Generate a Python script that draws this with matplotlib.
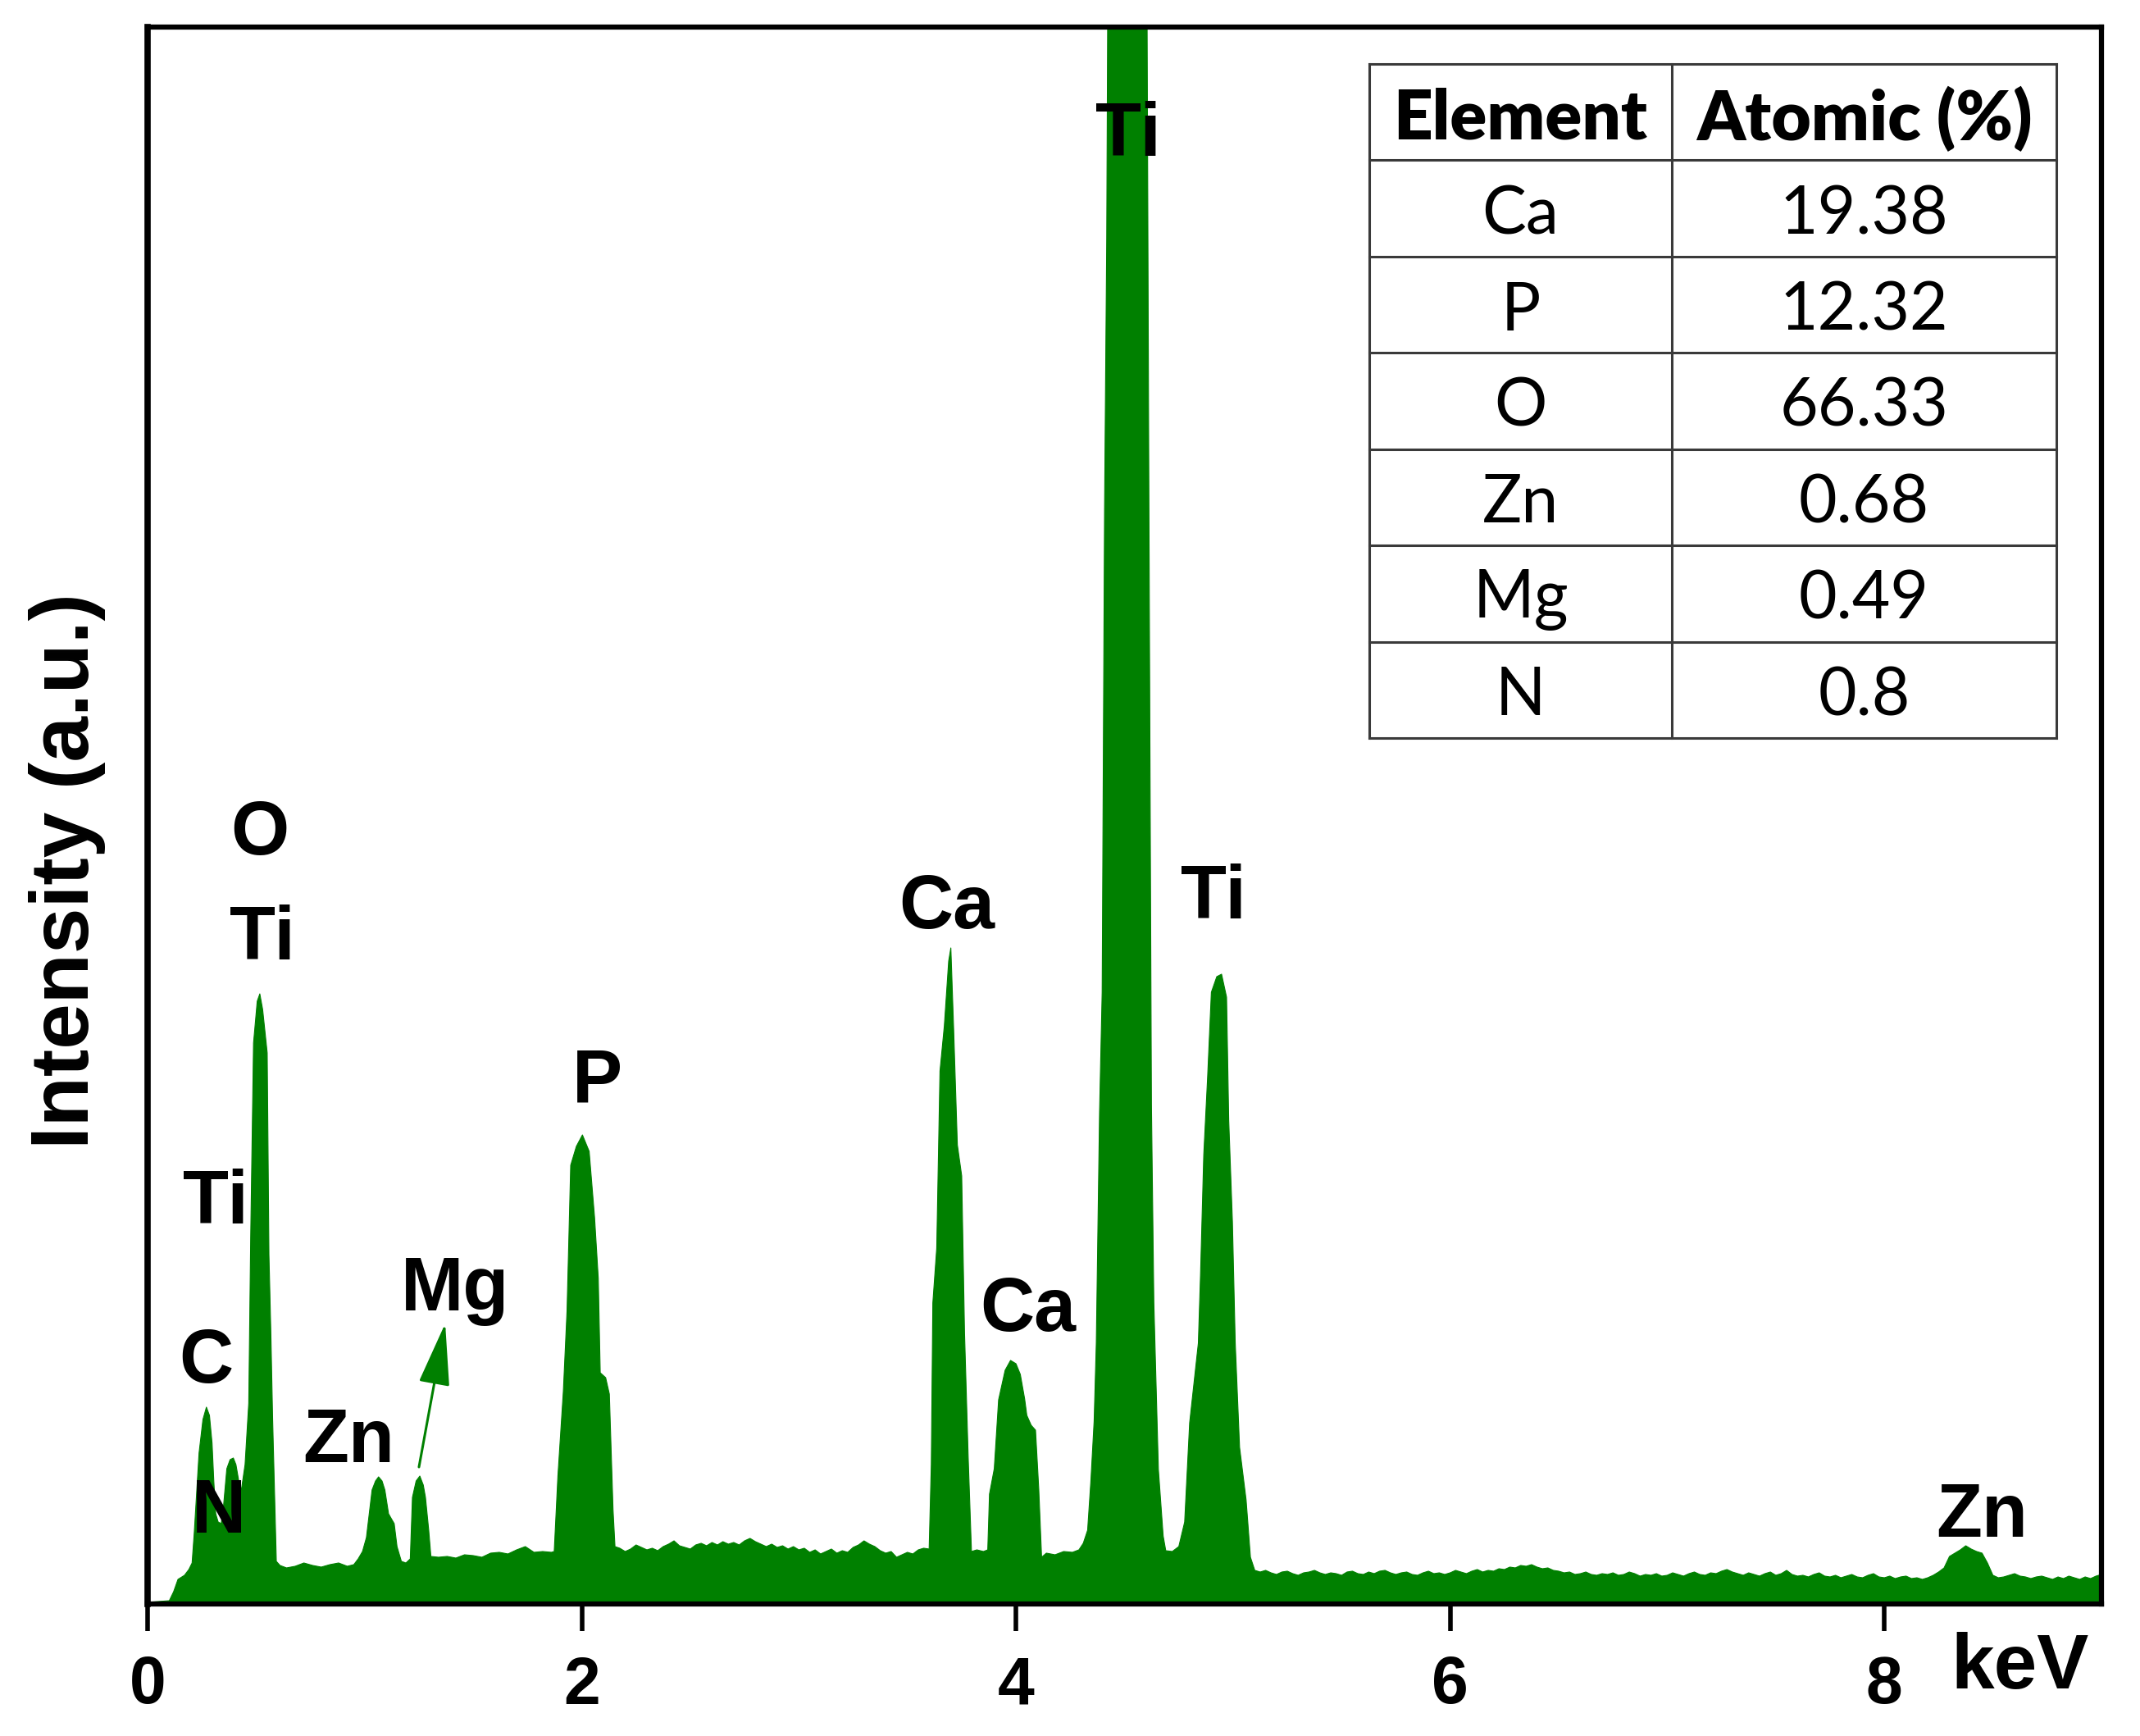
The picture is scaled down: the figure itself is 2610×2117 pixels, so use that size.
import matplotlib
matplotlib.use("Agg")
import matplotlib.pyplot as plt

# ---------------- data ----------------
energy_keV = [
    0.00, 0.05, 0.10, 0.12, 0.14, 0.17, 0.19, 0.205, 0.215, 0.237, 0.255, 0.271, 0.285, 0.297,
    0.305, 0.314, 0.325, 0.339, 0.35, 0.365, 0.38, 0.395, 0.407, 0.42, 0.432, 0.449, 0.466,
    0.475, 0.488, 0.505, 0.517, 0.53, 0.551, 0.559, 0.568, 0.576, 0.593, 0.61,
    0.64, 0.68, 0.72, 0.76, 0.80, 0.84, 0.88, 0.92, 0.95, 0.97, 0.99, 1.008, 1.034, 1.05,
    1.064, 1.08, 1.093, 1.11, 1.125, 1.136, 1.149, 1.169, 1.19, 1.21, 1.22, 1.237, 1.254,
    1.27, 1.28, 1.295, 1.305, 1.34, 1.38, 1.42, 1.46, 1.50, 1.54, 1.58, 1.62, 1.66, 1.70,
    1.74, 1.78, 1.82, 1.86,
    1.873, 1.89, 1.915, 1.932, 1.949, 1.975, 2.003, 2.034, 2.059, 2.076, 2.085, 2.11, 2.127,
    2.144, 2.153,
    2.175, 2.2, 2.225, 2.25, 2.275, 2.3, 2.325, 2.35, 2.375, 2.4, 2.425, 2.45, 2.475, 2.5,
    2.525, 2.55, 2.575, 2.6, 2.625, 2.65, 2.675, 2.7, 2.725, 2.75, 2.775, 2.8, 2.825, 2.85,
    2.875, 2.9, 2.925, 2.95, 2.975, 3.0, 3.025, 3.05, 3.075, 3.1, 3.125, 3.15, 3.175, 3.2,
    3.225, 3.25, 3.275, 3.3, 3.325, 3.35, 3.375, 3.4, 3.425, 3.45, 3.475, 3.5, 3.525, 3.55,
    3.575, 3.6,
    3.61, 3.617, 3.635, 3.65, 3.67, 3.69, 3.70, 3.713, 3.73, 3.75, 3.763, 3.78, 3.795, 3.82,
    3.85, 3.87,
    3.878, 3.90, 3.92, 3.95, 3.975, 4.00, 4.02, 4.04, 4.05, 4.07, 4.09, 4.105, 4.118,
    4.14, 4.18, 4.22, 4.26, 4.29, 4.31, 4.33,
    4.345, 4.36, 4.37, 4.385, 4.397, 4.408, 4.418, 4.43, 4.52, 4.60, 4.603, 4.612, 4.624,
    4.635, 4.656, 4.678, 4.69,
    4.72, 4.75,
    4.777, 4.80, 4.84, 4.85, 4.865, 4.883, 4.90, 4.925, 4.947, 4.97, 4.98, 4.997, 5.01, 5.03,
    5.06, 5.08, 5.10,
    5.125, 5.15, 5.175, 5.2, 5.225, 5.25, 5.275, 5.3, 5.325, 5.35, 5.375, 5.4, 5.425, 5.45,
    5.475, 5.5, 5.525, 5.55, 5.575, 5.6, 5.625, 5.65, 5.675, 5.7, 5.725, 5.75, 5.775, 5.8,
    5.825, 5.85, 5.875, 5.9, 5.925, 5.95, 5.975, 6.0, 6.025, 6.05, 6.075, 6.1, 6.125, 6.15,
    6.175, 6.2, 6.225, 6.25, 6.275, 6.3, 6.325, 6.35, 6.375, 6.4, 6.425, 6.45, 6.475, 6.5,
    6.525, 6.55, 6.575, 6.6, 6.625, 6.65, 6.675, 6.7, 6.725, 6.75, 6.775, 6.8, 6.825, 6.85,
    6.875, 6.9, 6.925, 6.95, 6.975, 7.0, 7.025, 7.05, 7.075, 7.1, 7.125, 7.15, 7.175, 7.2,
    7.225, 7.25, 7.275, 7.3, 7.325, 7.35, 7.375, 7.4, 7.425, 7.45, 7.475, 7.5, 7.525, 7.55,
    7.575, 7.6, 7.625, 7.65, 7.675, 7.7, 7.725, 7.75, 7.775, 7.8, 7.825, 7.85, 7.875, 7.9,
    7.925, 7.95, 7.975, 8.0, 8.025, 8.05, 8.075, 8.1, 8.125, 8.15, 8.175, 8.2, 8.225, 8.25,
    8.275, 8.3, 8.325, 8.35, 8.375, 8.4, 8.425, 8.45, 8.475, 8.5, 8.525, 8.55, 8.575, 8.6,
    8.625, 8.65, 8.675, 8.7, 8.725, 8.75, 8.775, 8.8, 8.825, 8.85, 8.875, 8.9, 8.925, 8.95,
    8.975, 9.0,
]
intensity = [
    2, 3, 4, 15, 30, 35, 42, 50, 87, 184, 225, 240, 230, 196,
    150, 110, 100, 98, 120, 165, 176, 178, 170, 150, 139, 170, 245,
    448, 684, 735, 744, 725, 672, 426, 328, 225, 52, 47,
    44, 46, 50, 47, 45, 48, 50, 46, 48, 55, 64, 81, 139, 150,
    155, 150, 139, 110, 103, 98, 70, 52, 50, 55, 130, 150, 156,
    145, 130, 90, 58, 57, 58, 56, 60, 59, 57, 62, 63, 61, 66,
    70, 63, 64, 63,
    64, 156, 259, 357, 535, 558, 572, 552, 471, 397, 282, 276, 256,
    115, 70,
    68, 64, 67, 72, 69, 66, 68, 65, 70, 73, 77, 71, 69, 67,
    72, 74, 71, 75, 72, 76, 73, 75, 72, 77, 80, 76, 73, 70,
    73, 69, 71, 67, 70, 66, 68, 63, 66, 61, 64, 67, 62, 65,
    63, 69, 72, 77, 73, 70, 65, 62, 64, 57, 60, 63, 61, 66,
    68, 67,
    170, 367, 434, 650, 705, 784, 800, 700, 560, 522, 331, 178, 64, 66,
    64, 66,
    134, 165, 249, 285, 297, 293, 280, 250, 230, 218, 212, 140, 57,
    62, 60, 64, 63, 66, 74, 90,
    150, 223, 318, 600, 746, 1335, 1665, 2400, 2600, 2400, 2000, 1366, 608,
    368, 164, 83, 65,
    64, 70,
    100, 221, 318, 401, 548, 644, 746, 765, 768, 740, 590, 466, 318, 191,
    127, 57, 41,
    39, 41, 38, 36, 39, 40, 37, 35, 38, 39, 41, 38, 36, 38,
    37, 35, 39, 40, 37, 36, 39, 37, 40, 41, 38, 36, 38, 39,
    36, 35, 38, 40, 37, 38, 36, 38, 41, 39, 37, 40, 42, 39,
    41, 40, 43, 42, 45, 44, 47, 46, 48, 45, 43, 44, 41, 40,
    38, 39, 36, 37, 39, 36, 35, 37, 36, 38, 35, 36, 39, 37,
    34, 36, 35, 37, 34, 35, 38, 36, 34, 37, 39, 36, 35, 38,
    37, 40, 42, 39, 37, 35, 38, 36, 34, 37, 39, 35, 37, 41,
    36, 34, 35, 33, 36, 38, 34, 33, 35, 32, 34, 36, 33, 32,
    35, 37, 33, 32, 34, 31, 33, 34, 31, 32, 30, 32, 35, 39,
    44, 58, 62, 66, 71, 67, 64, 62, 50, 35, 32, 33, 35, 37,
    34, 33, 31, 33, 34, 32, 30, 33, 31, 34, 32, 30, 33, 31,
    34, 36,
]

peak_labels = ["O", "Ti", "Ti", "C", "N", "Zn", "Mg", "P", "Ca", "Ca", "Ti", "Ti", "Zn"]
label_x_keV = [0.516, 0.528, 0.314, 0.27, 0.327, 0.925, 1.415, 2.07, 3.68, 4.057, 4.516, 4.91, 8.45]
label_y = [938, 810, 488, 294, 111, 197, 382, 635, 848, 357, 1790, 860, 106]

x_ticks = [0, 2, 4, 6, 8]

table_elements = ["Ca", "P", "O", "Zn", "Mg", "N"]
table_atomic = ["19.38", "12.32", "66.33", "0.68", "0.49", "0.8"]
table_headers = ["Element", "Atomic (%)"]

# ---------------- figure ----------------
W, H = 2610, 2117
DPI = 100
fig = plt.figure(figsize=(W / DPI, H / DPI), dpi=DPI)
fig.patch.set_facecolor("white")

left, right, top, bottom = 180, 2563, 33, 1956
ax = fig.add_axes([left / W, 1 - bottom / H, (right - left) / W, (bottom - top) / H])

green = "#008000"
ax.fill_between(energy_keV, 0, intensity, color=green, linewidth=0.8, edgecolor=green)

ax.set_xlim(0, 9)
ax.set_ylim(0, 1923)
ax.set_yticks([])
ax.set_xticks(x_ticks)
ax.set_xticklabels([str(t) for t in x_ticks])

for side in ["top", "right", "bottom", "left"]:
    ax.spines[side].set_linewidth(4.5)
    ax.spines[side].set_color("black")
ax.spines["left"].set_linewidth(5.5)

ax.tick_params(axis="x", direction="out", length=24, width=4, pad=21,
               labelsize=58, colors="black")
for lab in ax.get_xticklabels():
    lab.set_fontfamily("Liberation Sans")
    lab.set_fontweight("bold")

lab_font = dict(family="Liberation Sans", weight="bold", size=66, color="black")
for t, x, y in zip(peak_labels, label_x_keV, label_y):
    ax.text(x, y, t, ha="center", va="center", **lab_font)

ax.annotate("", xy=(1.371, 342), xytext=(1.25, 167),
            arrowprops=dict(arrowstyle="-|>,head_length=1.2,head_width=0.3",
                            color=green, lw=2.2, mutation_scale=40,
                            shrinkA=0, shrinkB=0))

# axis labels
fig.text(2463 / W, 1 - 2034 / H, "keV", ha="center", va="center",
         family="Liberation Sans", weight="bold", size=68)
fig.text(82 / W, 1 - 1062 / H, "Intensity (a.u.)", ha="center", va="center",
         rotation=90, family="Liberation Sans", weight="bold", size=72)

# ---------------- table ----------------
tx0, tx1, txm = 1670, 2508, 2039
ty0, ty1 = 78, 900
nrows = len(table_elements) + 1
rh = (ty1 - ty0) / nrows


def fx(x):
    return x / W


def fy(y):
    return 1 - y / H


line_col = "#3a3a3a"
lw_t = 2.2
for i in range(nrows + 1):
    y = ty0 + i * rh
    fig.add_artist(plt.Line2D([fx(tx0), fx(tx1)], [fy(y), fy(y)], color=line_col,
                              lw=lw_t, transform=fig.transFigure))
for x in [tx0, txm, tx1]:
    fig.add_artist(plt.Line2D([fx(x), fx(x)], [fy(ty0), fy(ty1)], color=line_col,
                              lw=lw_t, transform=fig.transFigure))

c1 = (tx0 + txm) / 2
c2 = (txm + tx1) / 2
tfont = "Lato"
dy = 8
fig.text(fx(c1), fy(ty0 + rh / 2 + dy), table_headers[0], ha="center", va="center",
         family=tfont, weight="heavy", size=60)
fig.text(fx(c2), fy(ty0 + rh / 2 + dy), table_headers[1], ha="center", va="center",
         family=tfont, weight="heavy", size=60)
for i, (el, val) in enumerate(zip(table_elements, table_atomic)):
    yc = ty0 + (i + 1.5) * rh + dy
    fig.text(fx(c1), fy(yc), el, ha="center", va="center", family=tfont, size=58)
    fig.text(fx(c2), fy(yc), val, ha="center", va="center", family=tfont, size=58)

fig.savefig("out.png", dpi=DPI, facecolor="white")
